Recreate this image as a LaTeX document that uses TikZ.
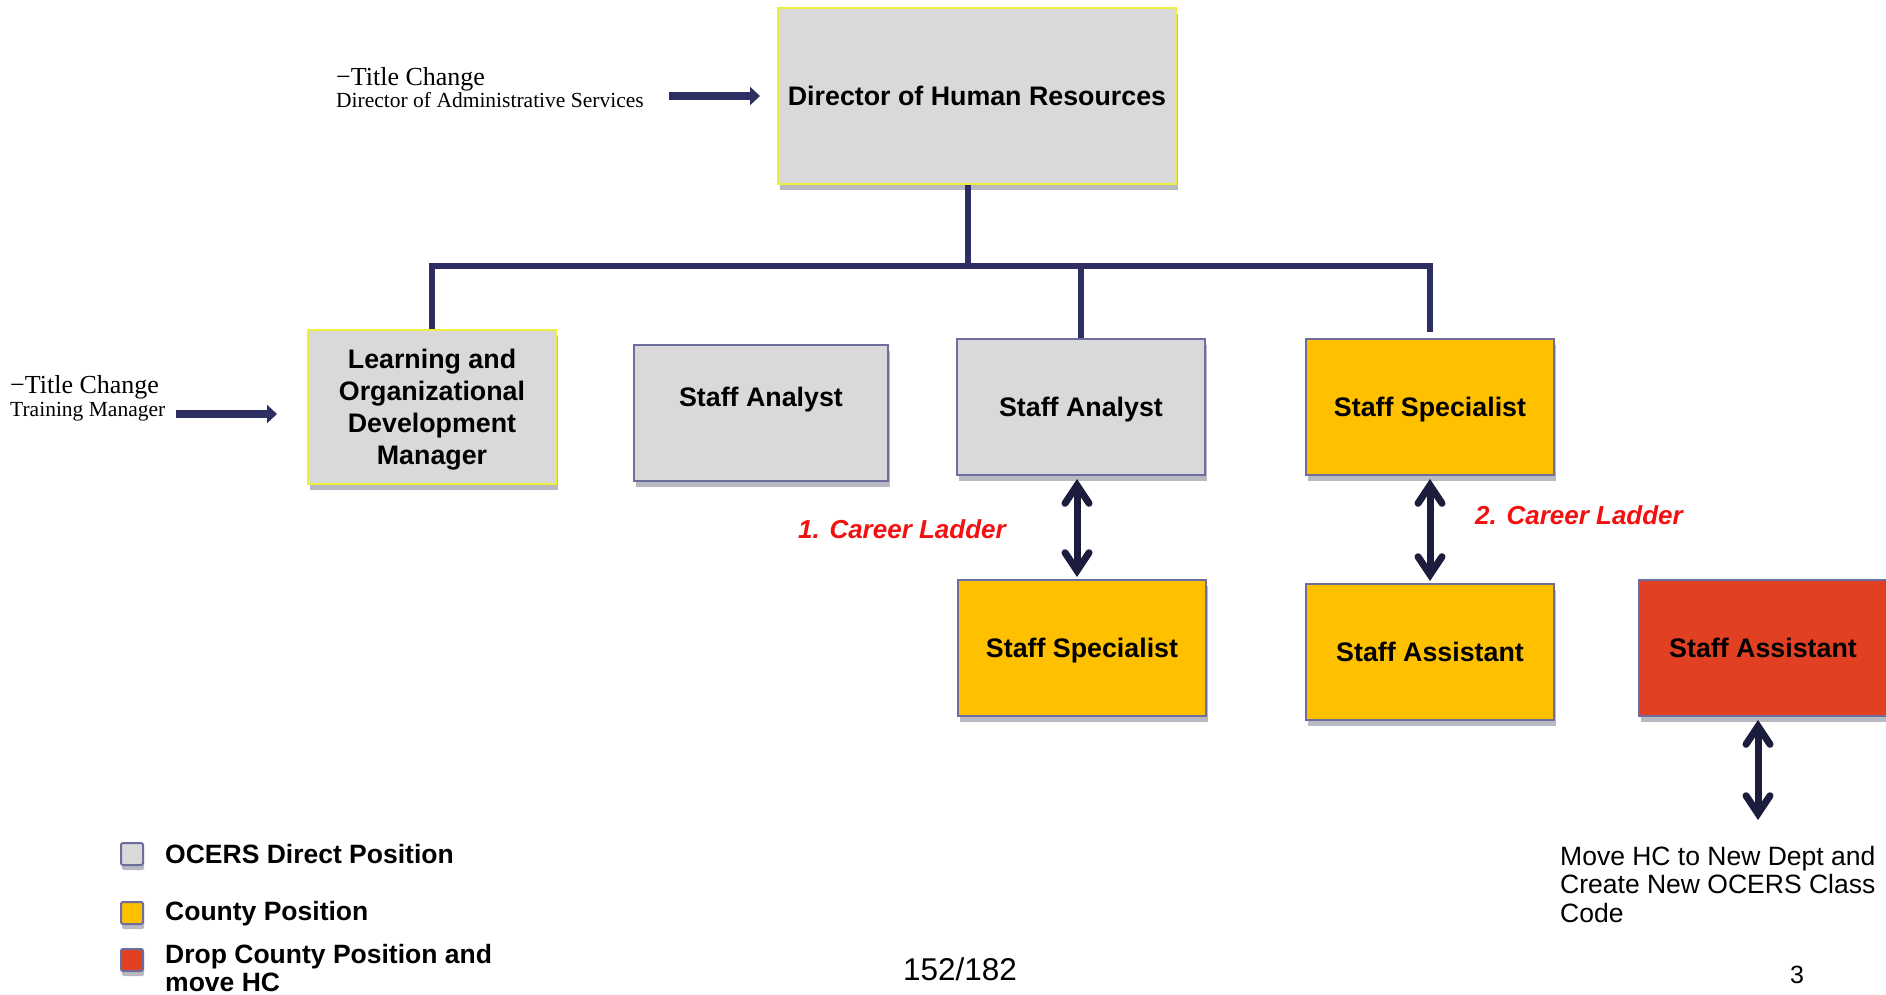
\documentclass[tikz,border=0pt]{standalone}
\usepackage{fontspec}
\setmainfont{Liberation Sans}
\newfontfamily\tnr{Liberation Serif}
\usetikzlibrary{arrows.meta,shadows}
\definecolor{boxgray}{HTML}{D9D9D9}
\definecolor{county}{HTML}{FFC000}
\definecolor{dropred}{HTML}{E14122}
\definecolor{navy}{HTML}{2E2E62}
\definecolor{darknavy}{HTML}{1C1C3C}
\definecolor{edgeblue}{HTML}{6E6E9E}
\definecolor{glow}{HTML}{EEEE3C}
\definecolor{ladderred}{HTML}{F21010}
\begin{document}
\begin{tikzpicture}[x=1pt,y=-1pt,
  box/.style={rectangle, draw=edgeblue, line width=2pt, inner sep=0pt, align=center,
    minimum width=248pt, minimum height=136pt, text depth=0pt,
    font=\fontsize{26.8}{32}\selectfont\bfseries,
    drop shadow={shadow xshift=2pt, shadow yshift=-6pt, opacity=0.35, fill=edgeblue!50!black}},
  graybox/.style={box, fill=boxgray},
  yellowbox/.style={box, fill=county},
  redbox/.style={box, fill=dropred},
  glowbox/.style={box, fill=boxgray, draw=glow},
  boxtext/.style={inner sep=0pt, align=center, text depth=0pt, font=\fontsize{26.8}{32}\selectfont\bfseries},
  orgline/.style={draw=navy, line width=6pt},
  ladder/.style={draw=darknavy, line width=7pt,
    {Straight Barb[length=18pt,width=24pt,line cap=round]}-{Straight Barb[length=18pt,width=24pt,line cap=round]},
    shorten <=3pt, shorten >=2pt},
  blockarrow/.style={draw=navy, line width=8pt, -{Triangle[length=10pt,width=18pt]}},
  laddertext/.style={inner sep=0pt, text=ladderred, font=\fontsize{26}{30}\selectfont\bfseries\itshape},
  bigserif/.style={inner sep=0pt, font=\tnr\fontsize{26}{28}\selectfont},
  smallserif/.style={inner sep=0pt, font=\tnr\fontsize{21.5}{24}\selectfont},
  legendsq/.style={rectangle, rounded corners=2pt, draw=edgeblue, line width=2pt, minimum size=22pt, inner sep=0pt,
    drop shadow={shadow xshift=1pt, shadow yshift=-5pt, opacity=0.35, fill=edgeblue!50!black}},
  legendtext/.style={inner sep=0pt, align=left, anchor=west, font=\fontsize{26.5}{28}\selectfont\bfseries},
  plaintext/.style={inner sep=0pt, align=left, font=\fontsize{26.5}{28.5}\selectfont}
]
\useasboundingbox (0,0) rectangle (1886,994);
\fill[white] (0,0) rectangle (1886,994);

% boxes
\node[glowbox, minimum width=398pt, minimum height=176pt] (dir) at (977,96) {Director of Human Resources};
\node[glowbox, minimum height=154pt] (lod) at (432,407) {Learning and\\Organizational\\Development\\Manager};
\node[graybox, minimum width=254pt] (sa1) at (761,413) {};
\node[boxtext] (sa1t) at ([yshift=16pt]sa1.center) {Staff Analyst};
\node[graybox] (sa2) at (1081,407) {Staff Analyst};
\node[yellowbox] (spectop) at (1430,407) {Staff Specialist};
\node[yellowbox] (specbot) at (1082,648) {Staff Specialist};
\node[yellowbox] (assisty) at (1430,652) {Staff Assistant};
\node[redbox] (assistr) at (1763,648) {Staff Assistant};

% org lines
\coordinate (bus) at (968,266);
\draw[orgline] ([xshift=-9pt]dir.south) -- (bus);
\draw[orgline] (lod.north) -- (lod.north |- bus) -- (bus -| spectop.north) -- ([yshift=6pt]spectop.north);
\draw[orgline] (sa2.north) -- (sa2.north |- bus);

% career ladders
\draw[ladder] ([xshift=-4pt]sa2.south) -- ([xshift=-5pt]specbot.north);
\draw[ladder] (spectop.south) -- (assisty.north);
\coordinate (hcend) at (1758,822);
\draw[ladder] ([xshift=-5pt]assistr.south) -- (hcend);
\node[laddertext, anchor=east] (cl1) at (1006,529) {1. Career Ladder};
\node[laddertext, anchor=west] (cl2) at (1475,515) {2. Career Ladder};

% title changes
\node[bigserif, anchor=base west] (tc1a) at (336,85) {−Title Change};
\node[smallserif, anchor=base west] (tc1b) at (336,107) {Director of Administrative Services};
\draw[blockarrow] (dir.west -| 669,0) -- ([xshift=-17pt]dir.west);
\node[bigserif, anchor=base west] (tc2a) at (10,393) {−Title Change};
\node[smallserif, anchor=base west] (tc2b) at (10,416) {Training Manager};
\coordinate (a2s) at (176,414);
\draw[blockarrow] (a2s) -- ([xshift=-30pt]a2s -| lod.west);

% legend
\node[legendsq, fill=boxgray] (lg1) at (132,854) {};
\node[legendtext] (lg1t) at (165,854) {OCERS Direct Position};
\node[legendsq, fill=county] (lg2) at (132,913) {};
\node[legendtext] (lg2t) at (165,914) {County Position};
\node[legendsq, fill=dropred] (lg3) at (132,960) {};
\node[legendtext] (lg3t) at (165,968) {Drop County Position and\\move HC};

% notes
\node[plaintext, anchor=north west] (hcnote) at (1560,846) {Move HC to New Dept and\\Create New OCERS Class\\Code};
\node[inner sep=0pt, font=\fontsize{31.5}{32}\selectfont] (pg) at (960,969) {152/182};
\node[inner sep=0pt, font=\fontsize{25}{28}\selectfont] (sl) at (1797,975) {3};
\end{tikzpicture}
\end{document}
